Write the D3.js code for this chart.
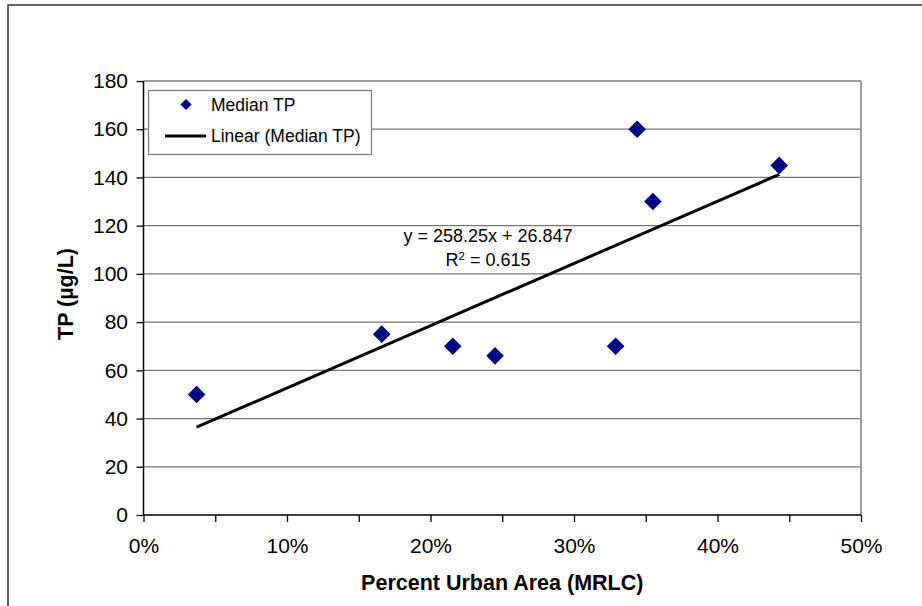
<!DOCTYPE html>
<html>
<head>
<meta charset="utf-8">
<script src="https://cdn.jsdelivr.net/npm/d3@7"></script>
<style>
  html, body { margin: 0; padding: 0; background: #fff; }
  svg { display: block; font-family: "Liberation Sans", Arial, sans-serif; }
</style>
</head>
<body>
<svg id="chart" width="922" height="606"></svg>
<script>
// ---- data ----
const urbanPct = [0.037, 0.166, 0.2155, 0.245, 0.329, 0.344, 0.355, 0.443];
const medianTP = [50, 75, 70, 66, 70, 160, 130, 145];
const trendSlope = 258.25;
const trendIntercept = 26.847;
const rSquared = 0.615;
const yTicks = [0, 20, 40, 60, 80, 100, 120, 140, 160, 180];
const xTicks = [0, 0.1, 0.2, 0.3, 0.4, 0.5];
const xMinorTicks = [0.05, 0.15, 0.25, 0.35, 0.45];
const seriesName = "Median TP";
const trendName = "Linear (Median TP)";
const xTitle = "Percent Urban Area (MRLC)";
const yTitle = "TP (µg/L)";

const svg = d3.select("#chart");
const W = 922, H = 606;
const L = 143.5, R = 861, T = 81, B = 515;

// outer chart border
svg.append("rect").attr("x", 8).attr("y", 5).attr("width", W + 20).attr("height", H + 20)
  .attr("fill", "#fff").attr("stroke", "#333").attr("stroke-width", 1.5);

const x = d3.scaleLinear().domain([0, 0.5]).range([L, R]);
const y = d3.scaleLinear().domain([0, 180]).range([B, T]);

// gridlines
svg.append("g").selectAll("line").data(yTicks.filter(d => d > 0)).join("line")
  .attr("x1", L).attr("x2", R).attr("y1", d => y(d)).attr("y2", d => y(d))
  .attr("stroke", d => d === 180 ? "#a0a0a0" : "#777").attr("stroke-width", d => d === 180 ? 2 : 1.2);
// right border of plot area
svg.append("line").attr("x1", R).attr("x2", R).attr("y1", T).attr("y2", B)
  .attr("stroke", "#a0a0a0").attr("stroke-width", 2);

// axes
const yAxis = d3.axisLeft(y).tickValues(yTicks).tickSize(7).tickPadding(8.5).tickFormat(d3.format("d"));
const gy = svg.append("g").attr("transform", `translate(${L},0)`).call(yAxis);
const xAxis = d3.axisBottom(x).tickValues(xTicks).tickSize(7).tickPadding(16).tickFormat(d3.format(".0%"));
const gx = svg.append("g").attr("transform", `translate(0,${B})`).call(xAxis);
svg.append("g").attr("transform", `translate(0,${B})`)
  .call(d3.axisBottom(x).tickValues(xMinorTicks).tickSize(7).tickFormat(""))
  .select(".domain").remove();
svg.selectAll(".tick line").attr("stroke", "#000").attr("stroke-width", 1.3);
[gx, gy].forEach(g => {
  g.select(".domain").attr("stroke", "#000").attr("stroke-width", 1.5);
  g.selectAll(".tick text").attr("font-size", 21).attr("fill", "#000")
    .attr("font-family", "'Liberation Sans', Arial, sans-serif");
});
gx.select(".domain").attr("d", `M${L},0H${R}`);
gy.select(".domain").attr("d", `M0,${B}V${T}`);

// trendline
const xs = d3.extent(urbanPct);
svg.append("line")
  .attr("x1", x(xs[0])).attr("y1", y(trendSlope * xs[0] + trendIntercept))
  .attr("x2", x(xs[1])).attr("y2", y(trendSlope * xs[1] + trendIntercept))
  .attr("stroke", "#000").attr("stroke-width", 3);

// points
const diamond = s => `M0,${-s}L${s},0L0,${s}L${-s},0Z`;
svg.append("g").selectAll("path").data(urbanPct).join("path")
  .attr("d", diamond(8.8))
  .attr("transform", (d, i) => `translate(${x(d)},${y(medianTP[i])})`)
  .attr("fill", "#000080");

// equation label
const eq = svg.append("text").attr("text-anchor", "middle").attr("font-size", 18).attr("fill", "#000");
eq.append("tspan").attr("x", 488).attr("y", 242)
  .text(`y = ${trendSlope}x + ${trendIntercept}`);
const r2 = svg.append("text").attr("x", 488).attr("y", 266).attr("text-anchor", "middle")
  .attr("font-size", 18).attr("fill", "#000");
r2.append("tspan").text("R");
r2.append("tspan").attr("font-size", 11.5).attr("dy", -6.5).text("2");
r2.append("tspan").attr("dy", 6.5).text(` = ${rSquared}`);

// legend
const lg = svg.append("g");
lg.append("rect").attr("x", 148.5).attr("y", 90.5).attr("width", 223).attr("height", 64)
  .attr("fill", "#fff").attr("stroke", "#808080").attr("stroke-width", 1.3);
lg.append("path").attr("d", diamond(5.6)).attr("transform", "translate(186,104.5)").attr("fill", "#000080");
lg.append("text").attr("x", 211).attr("y", 110.5).attr("font-size", 17.5).text(seriesName);
lg.append("line").attr("x1", 165).attr("x2", 206).attr("y1", 136).attr("y2", 136)
  .attr("stroke", "#000").attr("stroke-width", 3);
lg.append("text").attr("x", 211).attr("y", 142).attr("font-size", 17.5).text(trendName);

// axis titles
svg.append("text").attr("x", (L + R) / 2).attr("y", 590).attr("text-anchor", "middle")
  .attr("font-size", 21.5).attr("font-weight", "bold").text(xTitle);
svg.append("text").attr("transform", `translate(73,${(T + B) / 2 - 4}) rotate(-90)`)
  .attr("text-anchor", "middle").attr("font-size", 21.5).attr("font-weight", "bold").text(yTitle);
</script>
</body>
</html>
